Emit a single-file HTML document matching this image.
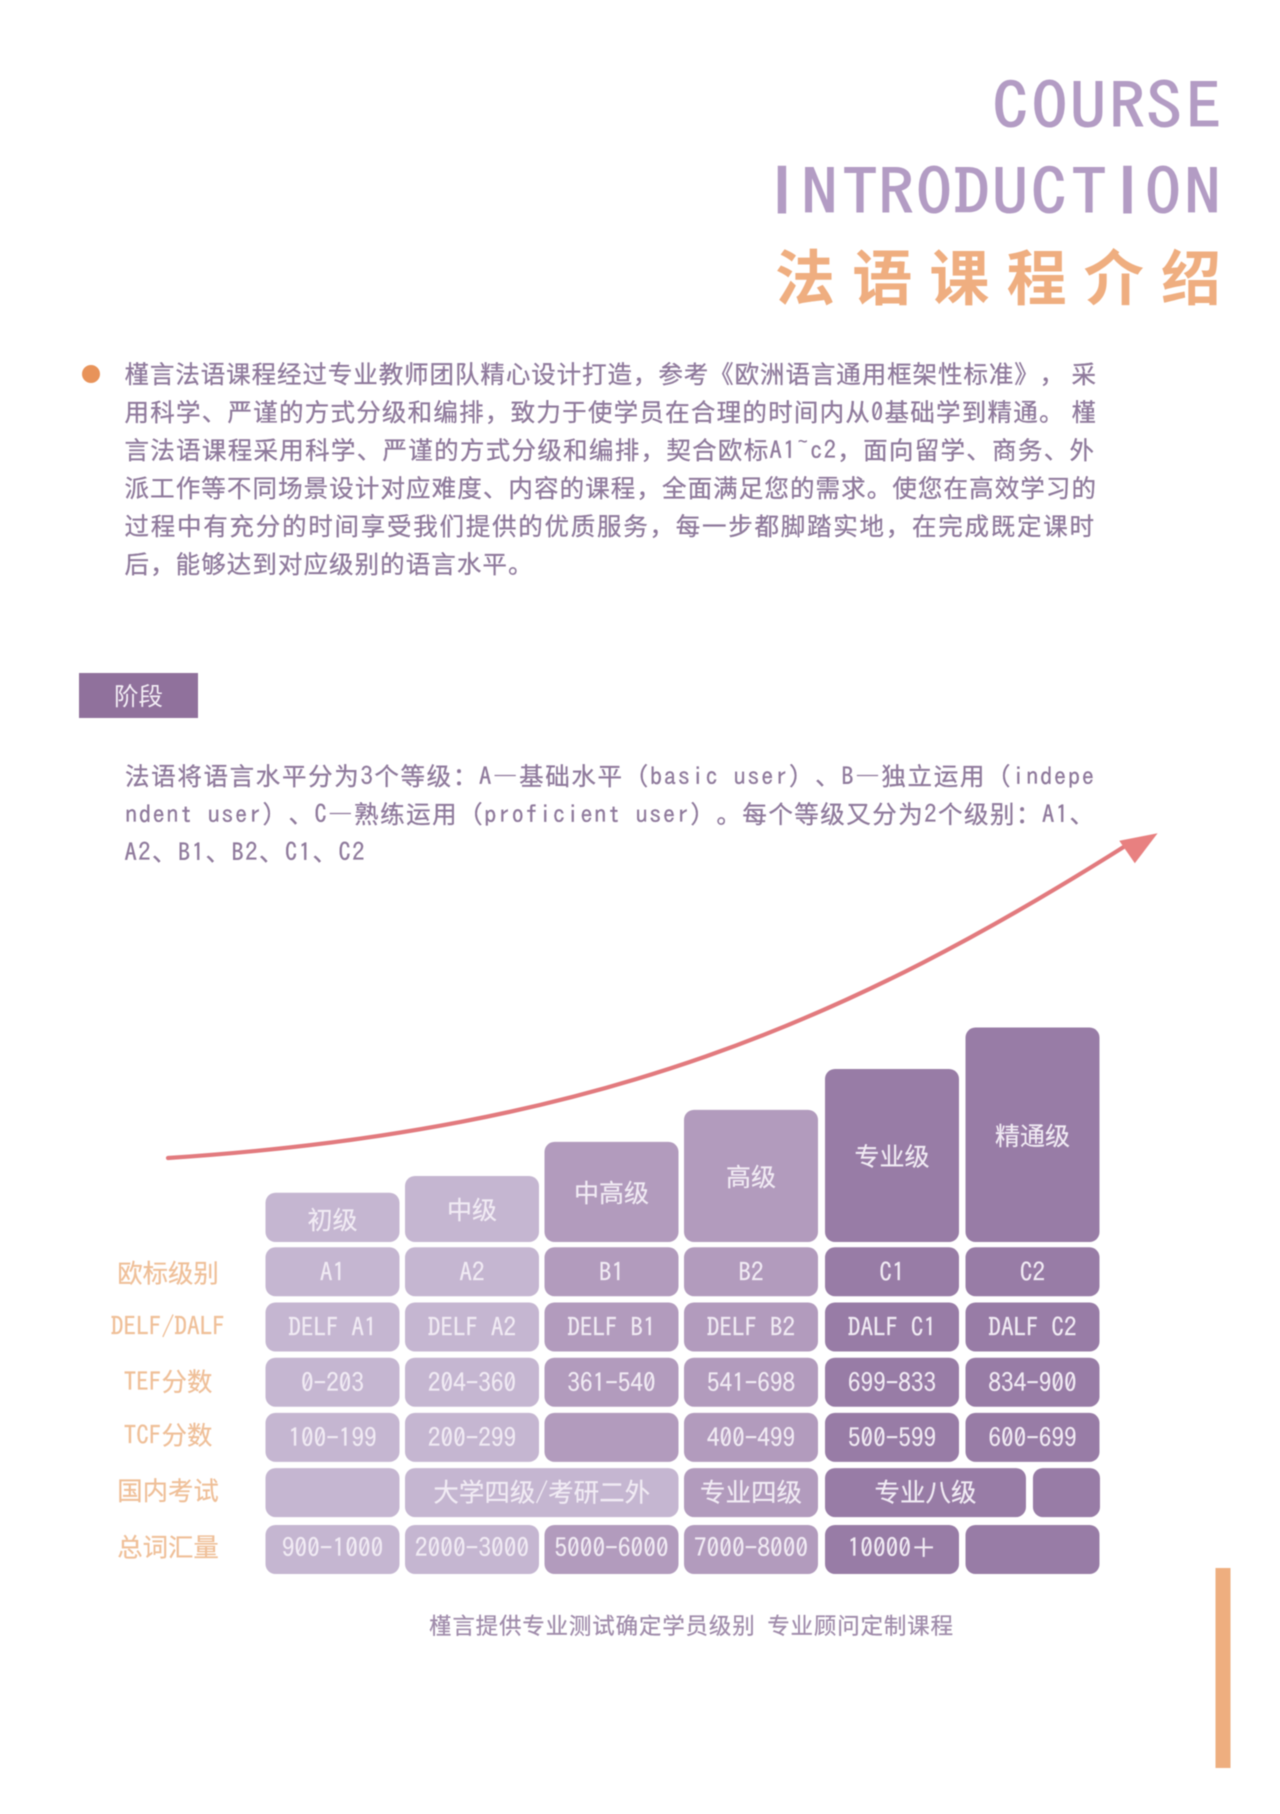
<!DOCTYPE html>
<html lang="zh-CN">
<head>
<meta charset="utf-8">
<title>法语课程介绍</title>
<style>
html,body{margin:0;padding:0;background:#fff;}
body{width:1280px;height:1814px;overflow:hidden;}
svg{display:block;filter:blur(0.55px);}
text{font-family:"Noto Sans CJK SC","WenQuanYi Zen Hei","Liberation Sans",sans-serif;white-space:pre;text-spacing-trim:space-all;}
.lat,tspan.lat{font-family:"IPAGothic","Liberation Mono",monospace;}
.sans,tspan.sans{font-family:"Liberation Sans",sans-serif;font-size:77px;}
.para{font-size:24.5px;fill:#8f7a9c;stroke:#8f7a9c;stroke-width:0.3px;}
</style>
</head>
<body>
<svg id="page" xmlns="http://www.w3.org/2000/svg" width="1280" height="1814" viewBox="0 0 1280 1814">
  <rect x="0" y="0" width="1280" height="1814" fill="#ffffff"/>

  <g transform="translate(0,129) scale(1,0.875)">
    <text class="lat" x="992.5 1031.5 1070 1109 1146 1186" y="0" font-size="72" fill="#b39cc4" stroke="#b39cc4" stroke-width="1.2">COURSE</text>
  </g>
  <g transform="translate(0,215) scale(1,0.875)">
    <text font-size="72" fill="#b39cc4" stroke="#b39cc4" stroke-width="1.2"><tspan class="sans" x="771.3" y="-2.5">I</tspan><tspan class="lat" x="801.5 842 878 916 954 992 1031 1071" y="0">NTRODUCT</tspan><tspan class="sans" x="1116.8" y="-2.5">I</tspan><tspan class="lat" x="1145 1184.5" y="0">ON</tspan></text>
  </g>
  <text x="775" y="300" font-size="60" font-weight="700" fill="#efae80" textLength="446">法语课程介绍</text>

  <circle cx="91" cy="374" r="9" fill="#e8935a"/>
  <g>
    <text class="para" x="124.5" y="383" textLength="971.5">槿言法语课程经过专业教师团队精心设计打造，参考《欧洲语言通用框架性标准》， 采</text>
    <text class="para" x="124.5" y="421" textLength="971.5">用科学、严谨的方式分级和编排，致力于使学员在合理的时间内从<tspan class="lat">0</tspan>基础学到精通。 槿</text>
    <text class="para" x="124.5" y="459" textLength="969.5">言法语课程采用科学、严谨的方式分级和编排，契合欧标<tspan class="lat">A1~c2</tspan>，面向留学、商务、外</text>
    <text class="para" x="124.5" y="497" textLength="971.5">派工作等不同场景设计对应难度、内容的课程，全面满足您的需求。使您在高效学习的</text>
    <text class="para" x="124.5" y="535" textLength="969.5">过程中有充分的时间享受我们提供的优质服务，每一步都脚踏实地，在完成既定课时</text>
    <text class="para" x="124.5" y="573" textLength="408">后，能够达到对应级别的语言水平。</text>
  </g>

  <rect x="79" y="673" width="119" height="45" fill="#90719c"/>
  <text x="138.5" y="705" font-size="24.5" text-anchor="middle" fill="#f3edf5">阶段</text>

  <g>
    <text class="para" x="125" y="785" textLength="969">法语将语言水平分为<tspan class="lat">3</tspan>个等级：<tspan class="lat">A</tspan>—基础水平（<tspan class="lat">basic user</tspan>）、<tspan class="lat">B</tspan>—独立运用（<tspan class="lat">indepe</tspan></text>
    <text class="para" x="125" y="823" textLength="969"><tspan class="lat">ndent user</tspan>）、<tspan class="lat">C</tspan>—熟练运用（<tspan class="lat">proficient user</tspan>）。每个等级又分为<tspan class="lat">2</tspan>个级别：<tspan class="lat">A1</tspan>、</text>
    <text class="para" x="124.5" y="861" textLength="240"><tspan class="lat">A2</tspan>、<tspan class="lat">B1</tspan>、<tspan class="lat">B2</tspan>、<tspan class="lat">C1</tspan>、<tspan class="lat">C2</tspan></text>
  </g>

  <path d="M168,1158 C600,1130 850,1020 1130,843" fill="none" stroke="#e27a7e" stroke-width="4.2" stroke-linecap="round"/>
  <polygon points="1157.6,833.3 1119.3,840.7 1134.8,863.3" fill="#e88080"/>

  <g id="chart"></g>

  <text x="429" y="1634" font-size="22.5" fill="#a08cab" stroke="#a08cab" stroke-width="0.25" textLength="524">槿言提供专业测试确定学员级别  专业顾问定制课程</text>
  <rect x="1215.5" y="1568" width="15" height="200" fill="#eeae7f"/>
</svg>

<script>
// Chart data
var levelNames = ['初级', '中级', '中高级', '高级', '专业级', '精通级'];
var levelSteps = [1.00, 1.34, 2.03, 2.68, 3.51, 4.35];
var rowLabels = ['欧标级别', 'DELF/DALF', 'TEF分数', 'TCF分数', '国内考试', '总词汇量'];
var euLevels = ['A1', 'A2', 'B1', 'B2', 'C1', 'C2'];
var delfExams = ['DELF A1', 'DELF A2', 'DELF B1', 'DELF B2', 'DALF C1', 'DALF C2'];
var tefScores = ['0-203', '204-360', '361-540', '541-698', '699-833', '834-900'];
var tcfScores = ['100-199', '200-299', '', '400-499', '500-599', '600-699'];
var domesticExams = ['', '大学四级/考研二外', '专业四级', '专业八级', ''];
var domesticSpans = [1, 2, 1, 1.48, 0.52];
var vocabulary = ['900-1000', '2000-3000', '5000-6000', '7000-8000', '10000＋', ''];

var SVG_NS = 'http://www.w3.org/2000/svg';
var chart = document.getElementById('chart');

// Axis functions
function colX(c) { return 265.5 + 139.5 * c + (c >= 4 ? c - 2.5 : 0); }
function colW(span) { return 139.5 * span - 5.5; }
function stepTop(v) { return 1242 - 49.3 * v; }
function rowY(r) { return 1247.3 + 55.2 * r + (r === 5 ? 1.7 : 0); }
var ROW_H = 49;

function bandFill(c) {
  if (c < 2) { return '#c5b6d1'; }
  if (c < 4) { return '#b29bbd'; }
  return '#987ca6';
}

function make(tag, parent) {
  var el = document.createElementNS(SVG_NS, tag);
  parent.appendChild(el);
  return el;
}

function fillRuns(el, str) {
  var runs = str.match(/[\x20-\x7e]+|[^\x20-\x7e]+/g) || [];
  runs.forEach(function (run) {
    var t = make('tspan', el);
    if (/^[\x20-\x7e]/.test(run)) { t.setAttribute('class', 'lat'); }
    t.textContent = run;
  });
}

function drawBox(name, x, y, w, h, fill) {
  var r = make('rect', chart);
  
  
  r.setAttribute('x', x);
  r.setAttribute('y', y);
  r.setAttribute('width', w);
  r.setAttribute('height', h);
  r.setAttribute('rx', 10);
  r.setAttribute('fill', fill);
  return r;
}

function drawLabel(name, cx, cy, str, fill, size) {
  var t = make('text', chart);
  
  
  t.setAttribute('x', cx);
  t.setAttribute('y', cy + 8.7);
  t.setAttribute('text-anchor', 'middle');
  t.setAttribute('font-size', size);
  t.setAttribute('fill', fill);
  t.setAttribute('stroke', fill);
  t.setAttribute('stroke-width', 0.2);
  fillRuns(t, str);
  return t;
}

// Staircase of level bars
levelSteps.forEach(function (v, c) {
  var top = stepTop(v);
  var h = stepTop(0) - top;
  drawBox('level-bar', colX(c), top, colW(1), h, bandFill(c));
  drawLabel('level-label', colX(c) + colW(1) / 2, top + h / 2 + (c === 0 ? 3 : 1.5), levelNames[c], '#f1ebf4', 25);
});

// Uniform table rows
[euLevels, delfExams, tefScores, tcfScores].forEach(function (row, r) {
  row.forEach(function (val, c) {
    drawBox('table-cell', colX(c), rowY(r), colW(1), ROW_H, bandFill(c));
    if (val) { drawLabel('table-cell-label', colX(c) + colW(1) / 2, rowY(r) + ROW_H / 2 + 1, val, '#f1ebf4', 25.2); }
  });
});

// Domestic exam row with spanning cells
var cursor = 0;
domesticExams.forEach(function (val, i) {
  var span = domesticSpans[i];
  drawBox('domestic-exam-cell', colX(cursor), rowY(4), colW(span), ROW_H, bandFill(Math.floor(cursor)));
  if (val) { drawLabel('domestic-exam-label', colX(cursor) + colW(span) / 2, rowY(4) + ROW_H / 2, val, '#f1ebf4', 25.5); }
  cursor += span;
});

// Vocabulary row
vocabulary.forEach(function (val, c) {
  drawBox('vocabulary-cell', colX(c), rowY(5), colW(1), ROW_H, bandFill(c));
  if (val) { drawLabel('vocabulary-label', colX(c) + colW(1) / 2, rowY(5) + ROW_H / 2 - 1, val, '#f1ebf4', 25.4); }
});

// Row headings
rowLabels.forEach(function (label, r) {
  drawLabel('row-label', 168, rowY(r) + ROW_H / 2 + (r === 0 ? 2 : 0) - (r > 2 ? 1.5 : 0), label, '#efbf98', 25.4);
});
</script>
</body>
</html>
